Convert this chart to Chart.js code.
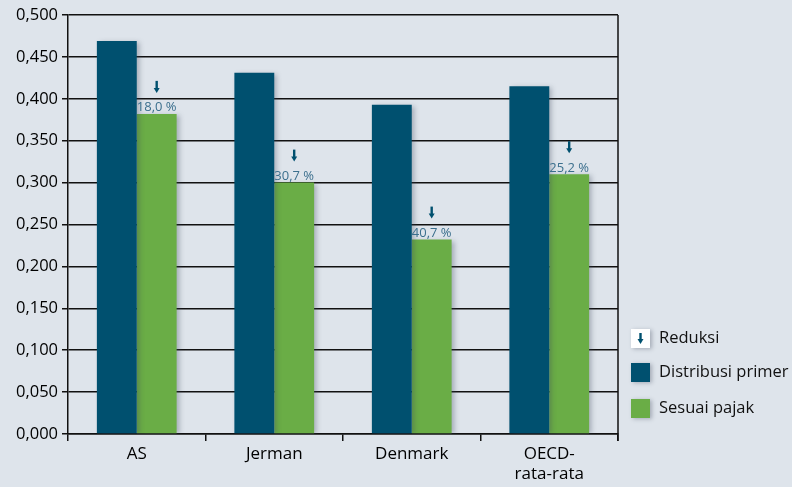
<!DOCTYPE html>
<html>
<head>
<meta charset="utf-8">
<script src="https://cdn.jsdelivr.net/npm/chart.js@4.4.1/dist/chart.umd.min.js"></script>
<style>
  body { margin: 0; background: #dee4eb; }
  #wrap { width: 792px; height: 487px; }
</style>
</head>
<body>
<div id="wrap"><canvas id="giniChart" width="792" height="487"></canvas></div>
<script>
const categories = ['AS', 'Jerman', 'Denmark', ['OECD-', 'rata-rata']];
const primer = [0.469, 0.431, 0.393, 0.415];
const pajak = [0.382, 0.300, 0.232, 0.310];
const reductionLabels = ['18,0 %', '30,7 %', '40,7 %', '25,2 %'];
const legendLabels = ['Reduksi', 'Distribusi primer', 'Sesuai pajak'];

const blue = '#00506f';
const green = '#6aad46';
const font = "'Open Sans', 'Noto Sans', sans-serif";

// bar shadows
const shadowPlugin = {
    id: 'shadows',
    beforeDatasetsDraw(chart) {
        const c = chart.ctx;
        c.save();
        c.shadowColor = 'rgba(60,70,90,0.35)';
        c.shadowBlur = 5;
        c.shadowOffsetX = 3;
        c.shadowOffsetY = 1;
    },
    afterDatasetsDraw(chart) {
        chart.ctx.restore();
    }
};

function drawArrow(c, x, y1, y2) {
    c.fillStyle = blue;
    c.fillRect(x - 1.2, y1, 2.4, y2 - y1 - 4);
    c.beginPath();
    c.moveTo(x - 3, y2 - 5);
    c.lineTo(x + 3, y2 - 5);
    c.lineTo(x, y2);
    c.closePath();
    c.fill();
}

const extrasPlugin = {
    id: 'extras',
    afterDraw(chart) {
        const c = chart.ctx;
        const area = chart.chartArea;
        c.save();
        // right frame line
        c.strokeStyle = '#111';
        c.lineWidth = 1.5;
        c.beginPath();
        c.moveTo(area.right, area.top);
        c.lineTo(area.right, area.bottom + 7);
        c.stroke();

        // reduction arrows and labels
        const meta = chart.getDatasetMeta(1);
        meta.data.forEach((bar, i) => {
            drawArrow(c, bar.x, bar.y - 33, bar.y - 21);
            c.fillStyle = '#3b6f8d';
            c.font = '13px ' + font;
            c.textAlign = 'center';
            c.textBaseline = 'alphabetic';
            c.fillText(reductionLabels[i], bar.x, bar.y - 2.5);
        });

        // legend
        const lx = 631, ys = [329, 363, 399];
        const fills = ['#ffffff', blue, green];
        ys.forEach((y, i) => {
            c.save();
            c.shadowColor = 'rgba(60,70,90,0.35)';
            c.shadowBlur = 4;
            c.shadowOffsetX = 2;
            c.shadowOffsetY = 1;
            c.fillStyle = fills[i];
            c.fillRect(lx, y, 19, 19);
            c.restore();
            if (i === 0) drawArrow(c, lx + 9.5, y + 4, y + 15);
            c.fillStyle = '#111';
            c.font = '16.5px ' + font;
            c.textAlign = 'left';
            c.textBaseline = 'middle';
            c.fillText(legendLabels[i], 659, y + 9.5);
        });
        c.restore();
    }
};

const ctx = document.getElementById('giniChart').getContext('2d');
const giniChart = new Chart(ctx, {
    type: 'bar',
    data: {
        labels: categories,
        datasets: [{
            label: legendLabels[1],
            data: primer,
            backgroundColor: blue,
            borderWidth: 0,
            categoryPercentage: 0.58,
            barPercentage: 1.0
        }, {
            label: legendLabels[2],
            data: pajak,
            backgroundColor: green,
            borderWidth: 0,
            categoryPercentage: 0.58,
            barPercentage: 1.0
        }]
    },
    options: {
        responsive: false,
        animation: false,
        layout: {
            padding: { top: 15, right: 174, left: 0, bottom: 0 }
        },
        plugins: {
            legend: { display: false },
            tooltip: { enabled: false }
        },
        scales: {
            x: {
                offset: true,
                grid: {
                    offset: true,
                    drawOnChartArea: false,
                    drawTicks: true,
                    tickLength: 7,
                    color: '#111',
                    lineWidth: 1.5
                },
                border: { color: '#111', width: 1.5 },
                ticks: {
                    color: '#000',
                    font: { family: font, size: 17 },
                    padding: 3,
                    maxRotation: 0
                },
                afterFit(scale) { scale.height = 53; }
            },
            y: {
                min: 0,
                max: 0.5,
                ticks: {
                    stepSize: 0.05,
                    color: '#000',
                    font: { family: font, size: 16.5 },
                    padding: 4,
                    callback: v => v.toFixed(3).replace('.', ',')
                },
                grid: {
                    color: '#111',
                    lineWidth: 1.5,
                    tickLength: 6
                },
                border: { color: '#111', width: 1.5 },
                afterFit(scale) { scale.width = 68; }
            }
        }
    },
    plugins: [shadowPlugin, extrasPlugin]
});
</script>
</body>
</html>
